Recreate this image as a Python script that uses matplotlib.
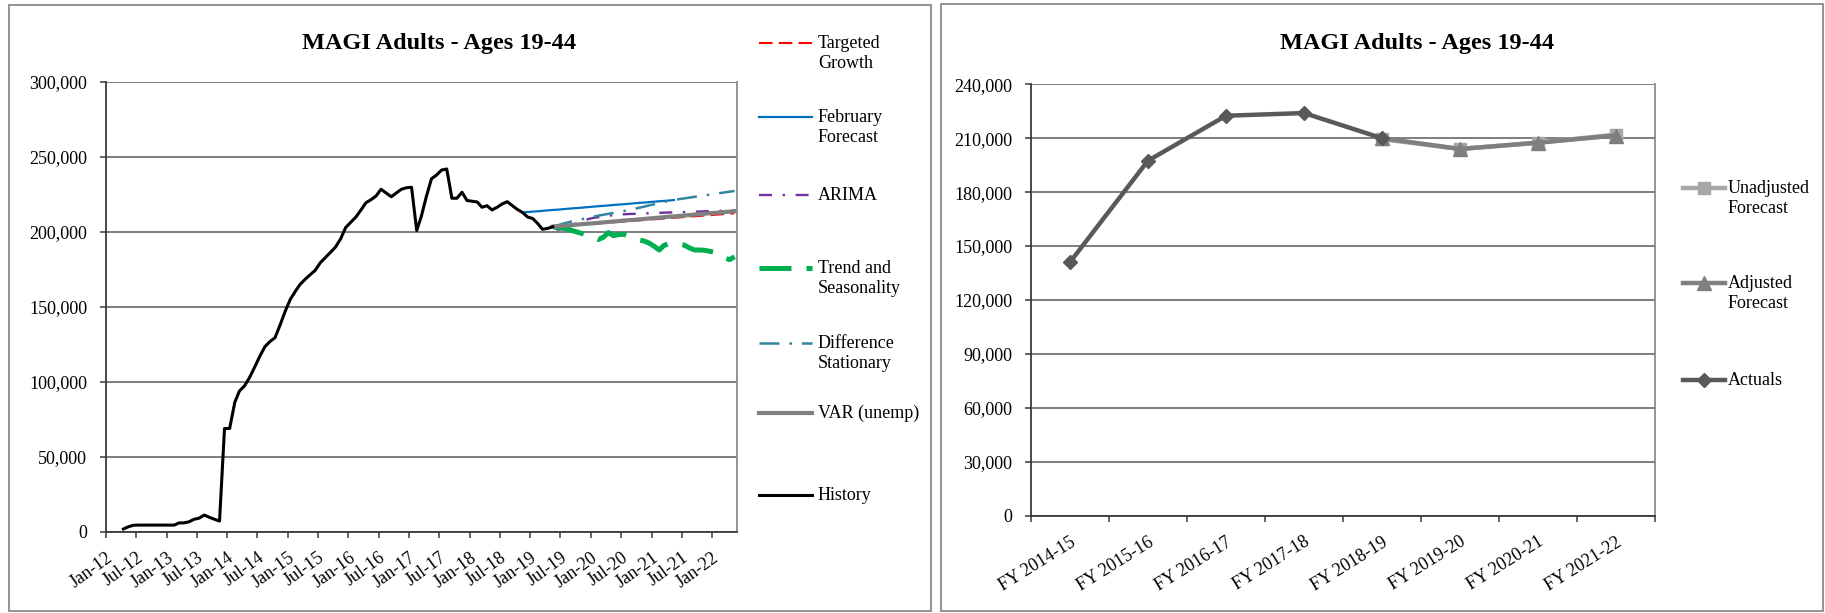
import numpy as np
import pandas as pd
import matplotlib
matplotlib.use("Agg")
import matplotlib.pyplot as plt
import matplotlib.dates as mdates
from matplotlib.lines import Line2D
from matplotlib.patches import Rectangle
from matplotlib.ticker import FuncFormatter, MultipleLocator, FixedLocator

plt.rcParams['font.family'] = ['Liberation Serif', 'DejaVu Serif']

# ---- monthly caseload (left chart) ----
hist_first_month = "2012-04-01"
history = [
    2000, 3500, 4500, 4600, 4600, 4600, 4600, 4600, 4600, 4600,          # Apr-12 .. Jan-13
    4600, 6000, 6100, 6800, 8500, 9200, 11300, 9800, 8500, 7300,         # Feb-13 .. Nov-13
    69000, 69000, 86500, 94000, 97500, 103000, 110000, 117000, 123500, 127000,  # Dec-13 .. Sep-14
    129500, 138000, 147000, 155000, 160500, 165000, 168500, 171500, 174500, 179500,  # Oct-14 .. Jul-15
    183000, 186500, 190000, 195500, 203000, 206500, 210000, 214500, 219500, 221500,  # Aug-15 .. May-16
    224000, 228500, 226000, 223500, 226000, 228500, 229500, 229800, 201000, 210500,  # Jun-16 .. Mar-17
    224000, 235500, 238000, 241300, 242000, 222500, 222500, 226500, 221000, 220500,  # Apr-17 .. Jan-18
    220000, 216500, 217500, 214700, 216500, 218700, 220200, 217500, 215000, 213000,  # Feb-18 .. Nov-18
    210000, 209000, 205500, 201800, 202400, 203500,                      # Dec-18 .. May-19
]

feb_first_month = "2018-11-01"
feb_forecast = [
    213000, 213300, 213600, 213800, 214100, 214400, 214700, 214900, 215200, 215500,
    215800, 216000, 216300, 216600, 216900, 217200, 217400, 217700, 218000, 218300,
    218500, 218800, 219100, 219400, 219600, 219900, 220200, 220500, 220700, 221000,
    221300,
]

fc_first_month = "2019-05-01"
targeted_growth = [
    203500, 203700, 204000, 204200, 204500, 204700, 205000, 205200, 205500, 205700,
    206000, 206200, 206500, 206700, 207000, 207200, 207500, 207700, 208000, 208200,
    208500, 208700, 209000, 209200, 209500, 209700, 210000, 210200, 210500, 210700,
    211000, 211200, 211500, 211700, 212000, 212200, 212500,
]
arima = [
    203500, 201500, 202000, 203300, 204800, 206200, 207500, 208600, 209400, 209900,
    210300, 210800, 211200, 211500, 211800, 212000, 212100, 212200, 212400, 212500,
    212600, 212700, 212900, 213000, 213100, 213200, 213300, 213400, 213500, 213600,
    213800, 213900, 214000, 214100, 214200, 214300, 214500,
]
trend_seasonality = [
    203500, 203000, 202600, 202000, 200800, 199800, 198800, 197800, 196900, 195000,
    196500, 199600, 197600, 198300, 198500, 197200, 195800, 194700, 194000, 192700,
    190500, 188000, 191000, 192400, 192000, 191700, 191300, 189500, 188000, 188000,
    187800, 187200, 186500, 184800, 182800, 181600, 183500,
]
difference_stationary = [
    203500, 204500, 205500, 206400, 207200, 208000, 208700, 209400, 210200, 210900,
    211500, 212100, 212700, 213300, 213900, 214600, 215300, 216100, 216900, 217700,
    218500, 219300, 220100, 220800, 221400, 221900, 222400, 222900, 223400, 223900,
    224400, 224900, 225400, 225900, 226400, 226900, 227300,
]
var_unemp = [
    203500, 203800, 204100, 204400, 204700, 205000, 205300, 205600, 205800, 206100,
    206400, 206700, 207000, 207300, 207600, 207900, 208100, 208400, 208700, 209000,
    209300, 209600, 209900, 210200, 210400, 210700, 211000, 211300, 211600, 211900,
    212200, 212500, 212700, 213000, 213300, 213600, 213900,
]

# ---- fiscal year totals (right chart) ----
fiscal_years = ["FY 2014-15", "FY 2015-16", "FY 2016-17", "FY 2017-18",
                "FY 2018-19", "FY 2019-20", "FY 2020-21", "FY 2021-22"]
fy_actuals = [141000, 197500, 222500, 224000, 210000, np.nan, np.nan, np.nan]
fy_adjusted = [np.nan, np.nan, np.nan, np.nan, 210000, 204000, 207500, 211500]
fy_unadjusted = [np.nan, np.nan, np.nan, np.nan, 209500, 204000, 207500, 212000]

TITLE = "MAGI Adults - Ages 19-44"


def mid_month(start, n):
    # points sit in the middle of each month
    return pd.date_range(start, periods=n, freq="MS") + pd.Timedelta(days=14)


W, H = 1825, 613
fig = plt.figure(figsize=(W / 100, H / 100), dpi=100)
fig.patch.set_facecolor("white")


def fx(px):
    return px / W


def fy(py):
    return 1 - py / H


grid_c = "#5a5a5a"
axis_c = "#3a3a3a"
frame_c = "#8c8c8c"

# outer chart frames
for x0, x1, y0, y1 in [(9, 931, 5, 611), (941, 1823, 4, 611)]:
    fig.add_artist(Rectangle((fx(x0), fy(y1)), fx(x1 - x0), (y1 - y0) / H,
                             transform=fig.transFigure, fill=False,
                             ec="#8a8a8a", lw=1.3))


def style_axes(ax):
    ax.set_facecolor("white")
    ax.grid(axis="y", color=grid_c, lw=1.1)
    ax.set_axisbelow(True)
    ax.spines["top"].set_visible(False)
    ax.spines["right"].set_color(frame_c)
    ax.spines["right"].set_linewidth(1.3)
    ax.spines["left"].set_color(axis_c)
    ax.spines["bottom"].set_color(axis_c)
    ax.spines["left"].set_linewidth(1.3)
    ax.spines["bottom"].set_linewidth(1.3)
    ax.yaxis.set_major_formatter(FuncFormatter(lambda v, p: f"{v:,.0f}"))
    ax.tick_params(axis="y", direction="out", length=4.5, width=1.1,
                   color=axis_c, labelsize=13, pad=9)


# ================= left chart =================
axL = fig.add_axes([fx(106), fy(532), fx(736.7 - 106), (532 - 82) / H])
style_axes(axL)
axL.set_ylim(0, 300000)
axL.yaxis.set_major_locator(MultipleLocator(50000))

hx = mid_month(hist_first_month, len(history))
bx = mid_month(feb_first_month, len(feb_forecast))
fcx = mid_month(fc_first_month, len(var_unemp))

axL.plot(fcx, targeted_growth, color="#ff0000", lw=1.5, ls=(0, (6.5, 3)), zorder=3)
axL.plot(bx, feb_forecast, color="#0070c0", lw=1.6, zorder=3)
axL.plot(fcx, arima, color="#7030a0", lw=1.7, ls=(0, (5.5, 4.5, 1, 4.5)), zorder=3)
axL.plot(fcx, trend_seasonality, color="#00b050", lw=3.6, ls=(0, (6.4, 3)),
         zorder=3, solid_capstyle="round")
axL.plot(fcx, difference_stationary, color="#31859c", lw=1.8,
         ls=(0, (8, 4, 1, 4)), zorder=3)
axL.plot(fcx, var_unemp, color="#808080", lw=3.0, zorder=4)
axL.plot(hx, history, color="black", lw=2.2, zorder=5)

axL.set_xlim(pd.Timestamp("2012-01-01"), pd.Timestamp("2022-05-28"))
axL.xaxis.set_major_locator(mdates.MonthLocator(bymonth=[1, 7]))
axL.xaxis.set_major_formatter(mdates.DateFormatter("%b-%y"))
axL.tick_params(axis="x", direction="out", length=4.5, width=1.1,
                color=axis_c, labelsize=13, pad=8)
plt.setp(axL.get_xticklabels(), rotation=36, ha="right", rotation_mode="anchor")

fig.text(fx(302), fy(44), TITLE, ha="left", va="center",
         fontsize=17.5, fontweight="bold")

# legend for the left chart
left_keys = [
    (43, "Targeted\nGrowth", dict(color="#ff0000", lw=1.5, ls=(0, (6.5, 3)))),
    (117, "February\nForecast", dict(color="#0070c0", lw=1.6)),
    (195, "ARIMA", dict(color="#7030a0", lw=1.7, ls=(0, (5.5, 4.5, 1, 4.5)))),
    (268, "Trend and\nSeasonality", dict(color="#00b050", lw=3.6, ls=(0, (6.4, 3)))),
    (343, "Difference\nStationary", dict(color="#31859c", lw=1.8, ls=(0, (8, 4, 1, 4)))),
    (413, "VAR (unemp)", dict(color="#808080", lw=3.0)),
    (495, "History", dict(color="black", lw=2.2)),
]
for y, label, kw in left_keys:
    fig.add_artist(Line2D([fx(759), fx(812)], [fy(y), fy(y)],
                          transform=fig.transFigure, **kw))
    fig.text(fx(818), fy(y - 8), label, ha="left", va="top",
             fontsize=13, linespacing=1.25)

# ================= right chart =================
axR = fig.add_axes([fx(1031), fy(515.5), fx(1655 - 1031), (515.5 - 84.3) / H])
style_axes(axR)
axR.set_ylim(0, 240000)
axR.yaxis.set_major_locator(MultipleLocator(30000))

cx = np.arange(len(fiscal_years)) + 0.5
axR.plot(cx, fy_unadjusted, color="#a6a6a6", lw=3.2, marker="s", ms=8.5, zorder=3)
axR.plot(cx, fy_adjusted, color="#7f7f7f", lw=3.2, marker="^", ms=9.5, zorder=4)
axR.plot(cx, fy_actuals, color="#595959", lw=3.2, marker="D", ms=7.5, zorder=5)

axR.set_xlim(0, len(fiscal_years))
axR.xaxis.set_major_locator(FixedLocator(np.arange(len(fiscal_years) + 1)))
axR.xaxis.set_major_formatter(FuncFormatter(lambda v, p: ""))
axR.xaxis.set_minor_locator(FixedLocator(cx))
axR.set_xticklabels(fiscal_years, minor=True)
axR.tick_params(axis="x", which="major", direction="out", length=4.5, width=1.1,
                color=axis_c)
axR.tick_params(axis="x", which="minor", length=0, labelsize=13, pad=13)
plt.setp(axR.get_xticklabels(minor=True), rotation=32, ha="right",
         rotation_mode="anchor")

fig.text(fx(1280), fy(44), TITLE, ha="left", va="center",
         fontsize=17.5, fontweight="bold")

right_keys = [
    (188, "Unadjusted\nForecast", dict(color="#a6a6a6", marker="s", ms=8.5)),
    (283, "Adjusted\nForecast", dict(color="#7f7f7f", marker="^", ms=9.5)),
    (380, "Actuals", dict(color="#595959", marker="D", ms=7.5)),
]
for y, label, kw in right_keys:
    fig.add_artist(Line2D([fx(1683), fx(1704), fx(1725)], [fy(y)] * 3,
                          transform=fig.transFigure, lw=3.2, markevery=[1], **kw))
    fig.text(fx(1728), fy(y - 8), label, ha="left", va="top",
             fontsize=13, linespacing=1.25)

fig.savefig("out.png", dpi=100, facecolor="white")
